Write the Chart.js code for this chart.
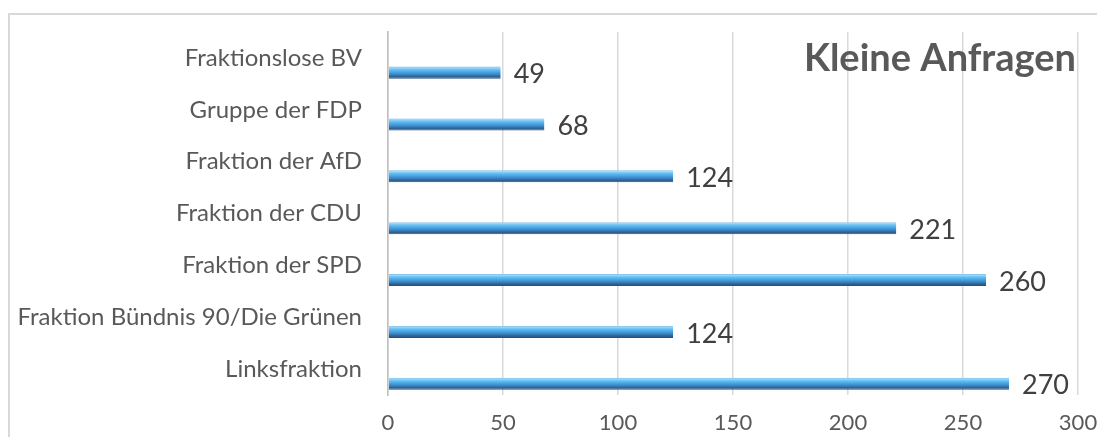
<!DOCTYPE html>
<html>
<head>
<meta charset="utf-8">
<script src="https://cdn.jsdelivr.net/npm/chart.js@4/dist/chart.umd.min.js"></script>
<style>
  html, body { margin: 0; padding: 0; background: #fff; }
  #wrap { position: relative; width: 1097px; height: 437px; overflow: hidden; }
  #frame {
    position: absolute; left: 8px; top: 13px; width: 1200px; height: 500px;
    border-top: 2px solid #d9d9d9; border-left: 2px solid #d9d9d9;
  }
  #box { position: absolute; left: 0; top: 0; width: 1097px; height: 437px; }
</style>
</head>
<body>
<div id="wrap">
  <div id="frame"></div>
  <div id="box"><canvas id="anfragenChart"></canvas></div>
</div>
<script>
const categories = [
  "Fraktionslose BV",
  "Gruppe der FDP",
  "Fraktion der AfD",
  "Fraktion der CDU",
  "Fraktion der SPD",
  "Fraktion Bündnis 90/Die Grünen",
  "Linksfraktion",
];
const anfragen = [49, 68, 124, 221, 260, 124, 270];
const xMax = 300;
const xStep = 50;
const chartTitle = "Kleine Anfragen";

document.addEventListener("DOMContentLoaded", () => {
  const ctx = document.getElementById("anfragenChart").getContext("2d");
  const CAT_PCT = 0.85;
  const BAR_PCT = 0.82;

  // bars sit in the lower part of each band (like the original Excel 3D bar)
  function barCenter(chart, index) {
    const y = chart.scales.y;
    const band = (y.bottom - y.top) / categories.length;
    return y.getPixelForValue(index) + (band * CAT_PCT) / 3;
  }

  function barFill(c) {
    const chart = c.chart;
    if (!chart.chartArea || !chart.scales.y) return "#5aaee8";
    const yc = barCenter(chart, c.dataIndex);
    const g = chart.ctx.createLinearGradient(0, yc - 6, 0, yc + 6);
    g.addColorStop(0, "#7dbde8");
    g.addColorStop(0.1, "#9fd8fa");
    g.addColorStop(0.25, "#66c0f4");
    g.addColorStop(0.45, "#4aa6e4");
    g.addColorStop(0.65, "#3b86c4");
    g.addColorStop(0.82, "#2f6397");
    g.addColorStop(1, "#27507c");
    return g;
  }

  function noOverhang(scale) {
    scale.paddingLeft = 0;
    scale.paddingRight = 0;
    scale.paddingTop = 0;
    scale.paddingBottom = 0;
  }

  const valueLabels = {
    id: "valueLabels",
    afterDatasetsDraw(chart) {
      const meta = chart.getDatasetMeta(2);
      const c = chart.ctx;
      c.save();
      c.font = "27px Lato";
      c.fillStyle = "#404040";
      c.textAlign = "left";
      c.textBaseline = "middle";
      meta.data.forEach((bar, i) => {
        c.fillText(String(anfragen[i]), bar.x + 13, bar.y + 2);
      });
      c.restore();
    },
  };

  const cornerTitle = {
    id: "cornerTitle",
    afterDraw(chart) {
      const c = chart.ctx;
      c.save();
      c.font = "bold 38px Lato";
      c.fillStyle = "#595959";
      c.textAlign = "right";
      c.textBaseline = "alphabetic";
      c.fillText(chartTitle, 1076, 71);
      c.restore();
    },
  };

  new Chart(ctx, {
    type: "bar",
    data: {
      labels: categories,
      datasets: [
        { label: "", data: [] },
        { label: "", data: [] },
        {
          label: chartTitle,
          data: anfragen,
          backgroundColor: barFill,
          borderColor: "#27507c",
          borderWidth: { bottom: 1 },
          borderSkipped: false,
        },
      ],
    },
    options: {
      indexAxis: "y",
      responsive: true,
      maintainAspectRatio: false,
      animation: false,
      categoryPercentage: CAT_PCT,
      barPercentage: BAR_PCT,
      layout: { padding: { top: 32, right: 19, bottom: 2, left: 0 } },
      plugins: {
        legend: { display: false },
        title: { display: false },
        tooltip: { enabled: false },
      },
      scales: {
        x: {
          min: 0,
          max: xMax,
          afterFit(scale) {
            scale.height = 40;
            noOverhang(scale);
          },
          ticks: {
            stepSize: xStep,
            padding: 15,
            color: "#595959",
            font: { family: "Lato", size: 22, lineHeight: 1.2 },
          },
          grid: { color: "#d9d9d9", lineWidth: 1.5, drawTicks: false },
          border: { display: false },
        },
        y: {
          afterFit(scale) {
            scale.width = 388;
            noOverhang(scale);
          },
          ticks: {
            padding: 26,
            color: "#595959",
            font: { family: "Lato", size: 24 },
          },
          grid: { display: false, drawTicks: false },
          border: { display: true, color: "#bfbfbf", width: 1.5 },
        },
      },
    },
    plugins: [valueLabels, cornerTitle],
  });
});
</script>
</body>
</html>
